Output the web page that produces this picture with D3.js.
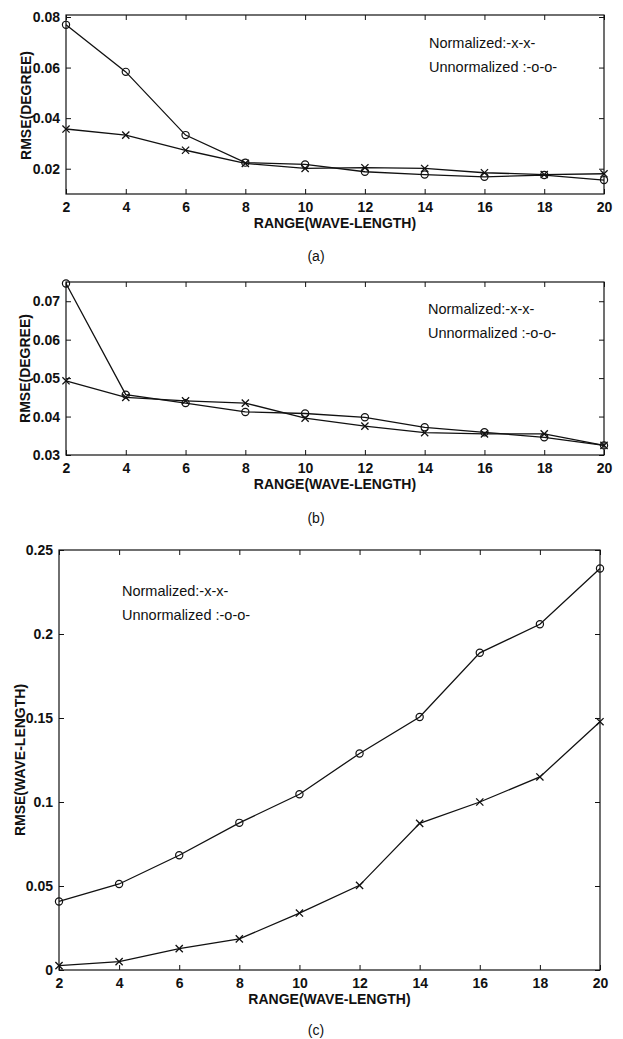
<!DOCTYPE html>
<html>
<head>
<meta charset="utf-8">
<script src="https://cdn.jsdelivr.net/npm/d3@7"></script>
<style>
  body { margin: 0; background: #fff; }
  svg { display: block; }
  text { font-family: "Liberation Sans", Arial, sans-serif; fill: #111; }
  .tick-label { font-size: 14px; font-weight: bold; }
  .axis-title { font-size: 14px; font-weight: bold; }
  .legend { font-size: 14.5px; }
  .caption { font-size: 14px; }
</style>
</head>
<body>
<svg id="chart" width="623" height="1039"></svg>
<script>
// x values shared by all three panels
const ranges = [2, 4, 6, 8, 10, 12, 14, 16, 18, 20];
const xTickLabels = ['2', '4', '6', '8', '10', '12', '14', '16', '18', '20'];

// (a) RMSE in degrees
const degNormA = [0.0357, 0.0333, 0.0273, 0.0221, 0.0201, 0.0204, 0.0201, 0.0184, 0.0177, 0.0180];
const degUnnormA = [0.0769, 0.0583, 0.0333, 0.0224, 0.0217, 0.0188, 0.0177, 0.0168, 0.0175, 0.0155];
const yTicksA = [0.02, 0.04, 0.06, 0.08];
const yTickLabelsA = ['0.02', '0.04', '0.06', '0.08'];

// (b) RMSE in degrees
const degNormB = [0.0493, 0.0450, 0.0441, 0.0435, 0.0396, 0.0375, 0.0358, 0.0355, 0.0355, 0.0325];
const degUnnormB = [0.0746, 0.0457, 0.0435, 0.0412, 0.0408, 0.0398, 0.0372, 0.0359, 0.0346, 0.0325];
const yTicksB = [0.03, 0.04, 0.05, 0.06, 0.07];
const yTickLabelsB = ['0.03', '0.04', '0.05', '0.06', '0.07'];

// (c) RMSE in wave-lengths
const wlNormC = [0.0026, 0.0050, 0.0127, 0.0185, 0.0339, 0.0504, 0.0873, 0.1000, 0.1149, 0.1478];
const wlUnnormC = [0.0408, 0.0512, 0.0683, 0.0876, 0.1046, 0.1289, 0.1506, 0.1888, 0.2058, 0.2390];
const yTicksC = [0, 0.05, 0.1, 0.15, 0.2, 0.25];
const yTickLabelsC = ['0', '0.05', '0.1', '0.15', '0.2', '0.25'];

const legendLabels = ['Normalized:-x-x-', 'Unnormalized :-o-o-'];
const xTitle = 'RANGE(WAVE-LENGTH)';

const svg = d3.select('#chart');

function drawPanel({
    left, right, top, bottom, frameTop = top,
    yDomain, yTicks, yTickLabels, yTitle, yTitleX,
    norm, unnorm, legendX, legendY, caption, captionY
  }) {

  const x = d3.scaleLinear().domain([2, 20]).range([left, right]);
  const y = d3.scaleLinear().domain(yDomain).range([bottom, top]);
  const g = svg.append('g');

  // frame
  g.append('rect')
    .attr('x', left)
    .attr('y', frameTop)
    .attr('width', right - left)
    .attr('height', bottom - frameTop)
    .attr('fill', 'none')
    .attr('stroke', '#111')
    .attr('stroke-width', 1.2);

  // inward ticks on all four sides
  const bottomAxis = d3.axisBottom(x).tickValues(ranges)
    .tickFormat((d, i) => xTickLabels[i]).tickSizeInner(-5).tickSizeOuter(0).tickPadding(8);
  const topAxis = d3.axisTop(x).tickValues(ranges)
    .tickFormat('').tickSizeInner(-5).tickSizeOuter(0);
  const leftAxis = d3.axisLeft(y).tickValues(yTicks)
    .tickFormat((d, i) => yTickLabels[i]).tickSizeInner(-5).tickSizeOuter(0).tickPadding(6);
  const rightAxis = d3.axisRight(y).tickValues(yTicks)
    .tickFormat('').tickSizeInner(-5).tickSizeOuter(0);

  const axes = [
    [bottomAxis, `translate(0,${bottom})`],
    [topAxis, `translate(0,${frameTop})`],
    [leftAxis, `translate(${left},0)`],
    [rightAxis, `translate(${right},0)`]
  ];
  axes.forEach(([axis, transform]) => {
    const a = g.append('g').attr('transform', transform).call(axis);
    a.select('.domain').remove();
    a.selectAll('line').attr('stroke', '#111').attr('stroke-width', 1);
    a.selectAll('text')
      .attr('class', 'tick-label')
      .attr('fill', '#111')
      .style('font-family', '"Liberation Sans", Arial, sans-serif');
  });

  const line = d3.line()
    .x((d, i) => x(ranges[i]))
    .y(d => y(d));

  [norm, unnorm].forEach(values => {
    g.append('path')
      .datum(values)
      .attr('d', line)
      .attr('fill', 'none')
      .attr('stroke', '#111')
      .attr('stroke-width', 1.3);
  });

  // circle markers for unnormalized
  g.selectAll('.mk-o')
    .data(unnorm)
    .join('circle')
    .attr('cx', (d, i) => x(ranges[i]))
    .attr('cy', d => y(d))
    .attr('r', 3.6)
    .attr('fill', 'none')
    .attr('stroke', '#111')
    .attr('stroke-width', 1.2);

  // x markers for normalized
  const s = 3.6;
  g.selectAll('.mk-x')
    .data(norm)
    .join('path')
    .attr('d', (d, i) => {
      const cx = x(ranges[i]);
      const cy = y(d);
      return `M${cx - s},${cy - s}L${cx + s},${cy + s}M${cx - s},${cy + s}L${cx + s},${cy - s}`;
    })
    .attr('stroke', '#111')
    .attr('stroke-width', 1.3);

  // legend text
  legendLabels.forEach((label, i) => {
    g.append('text')
      .attr('class', 'legend')
      .attr('x', legendX)
      .attr('y', legendY + i * 24)
      .attr('dy', '0.35em')
      .text(label);
  });

  // axis titles
  g.append('text')
    .attr('class', 'axis-title')
    .attr('x', (left + right) / 2)
    .attr('y', bottom + 29)
    .attr('dy', '0.35em')
    .attr('text-anchor', 'middle')
    .text(xTitle);

  g.append('text')
    .attr('class', 'axis-title')
    .attr('transform', `translate(${yTitleX},${(top + bottom) / 2}) rotate(-90)`)
    .attr('dy', '0.35em')
    .attr('text-anchor', 'middle')
    .text(yTitle);

  g.append('text')
    .attr('class', 'caption')
    .attr('x', 316)
    .attr('y', captionY)
    .attr('dy', '0.35em')
    .attr('text-anchor', 'middle')
    .text(caption);
}

drawPanel({
  left: 66, right: 604, top: 17, bottom: 194, frameTop: 15,
  yDomain: [0.01, 0.08], yTicks: yTicksA, yTickLabels: yTickLabelsA,
  yTitle: 'RMSE(DEGREE)', yTitleX: 26,
  norm: degNormA, unnorm: degUnnormA,
  legendX: 429, legendY: 43, caption: '(a)', captionY: 256
});

drawPanel({
  left: 66, right: 604, top: 282, bottom: 455,
  yDomain: [0.03, 0.075], yTicks: yTicksB, yTickLabels: yTickLabelsB,
  yTitle: 'RMSE(DEGREE)', yTitleX: 25,
  norm: degNormB, unnorm: degUnnormB,
  legendX: 428, legendY: 309, caption: '(b)', captionY: 518
});

drawPanel({
  left: 59, right: 600, top: 550, bottom: 970,
  yDomain: [0, 0.25], yTicks: yTicksC, yTickLabels: yTickLabelsC,
  yTitle: 'RMSE(WAVE-LENGTH)', yTitleX: 20,
  norm: wlNormC, unnorm: wlUnnormC,
  legendX: 122, legendY: 591, caption: '(c)', captionY: 1030
});
</script>
</body>
</html>
